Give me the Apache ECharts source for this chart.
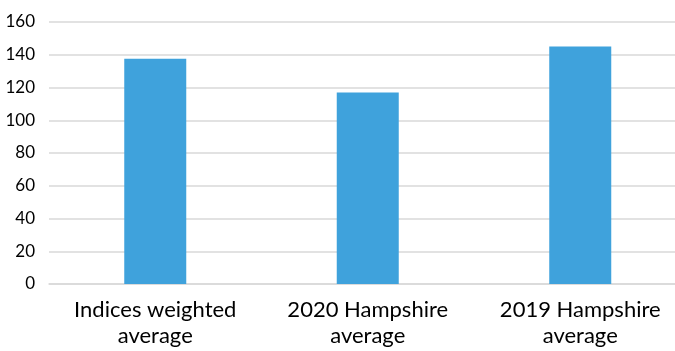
<!DOCTYPE html>
<html>
<head>
<meta charset="utf-8">
<script src="https://cdn.jsdelivr.net/npm/echarts@6/dist/echarts.min.js"></script>
<style>
  html, body { margin: 0; padding: 0; background: #ffffff; }
  #chart { width: 675px; height: 351px; }
</style>
</head>
<body>
<div id="chart"></div>
<script>
// Categories and values
const categories = ['Indices weighted\naverage', '2020 Hampshire\naverage', '2019 Hampshire\naverage'];
const values = [137.5, 117, 145];
const yTicks = [0, 20, 40, 60, 80, 100, 120, 140, 160];

const chart = echarts.init(document.getElementById('chart'), null, { renderer: 'canvas' });
chart.setOption({
  animation: false,
  backgroundColor: '#ffffff',
  // plot area runs a little past the right edge of the canvas
  grid: { left: 49, top: 22, height: 262, width: 637.5, containLabel: false, outerBoundsMode: 'none' },
  xAxis: {
    type: 'category',
    data: categories,
    axisLine: { show: true, lineStyle: { color: '#d9d9d9', width: 1.5 } },
    axisTick: { show: false },
    axisLabel: {
      color: '#000000',
      fontFamily: 'Lato',
      fontSize: 22,
      lineHeight: 26,
      margin: 13
    }
  },
  yAxis: {
    type: 'value',
    min: yTicks[0],
    max: yTicks[yTicks.length - 1],
    interval: 20,
    axisLine: { show: false },
    axisTick: { show: false },
    splitLine: { lineStyle: { color: '#d9d9d9', width: 1.5 } },
    axisLabel: {
      color: '#000000',
      fontFamily: 'Lato',
      fontSize: 17,
      margin: 14
    }
  },
  series: [{
    type: 'bar',
    data: values,
    barWidth: 62,
    itemStyle: { color: '#3fa2dc' }
  }]
});
</script>
</body>
</html>
